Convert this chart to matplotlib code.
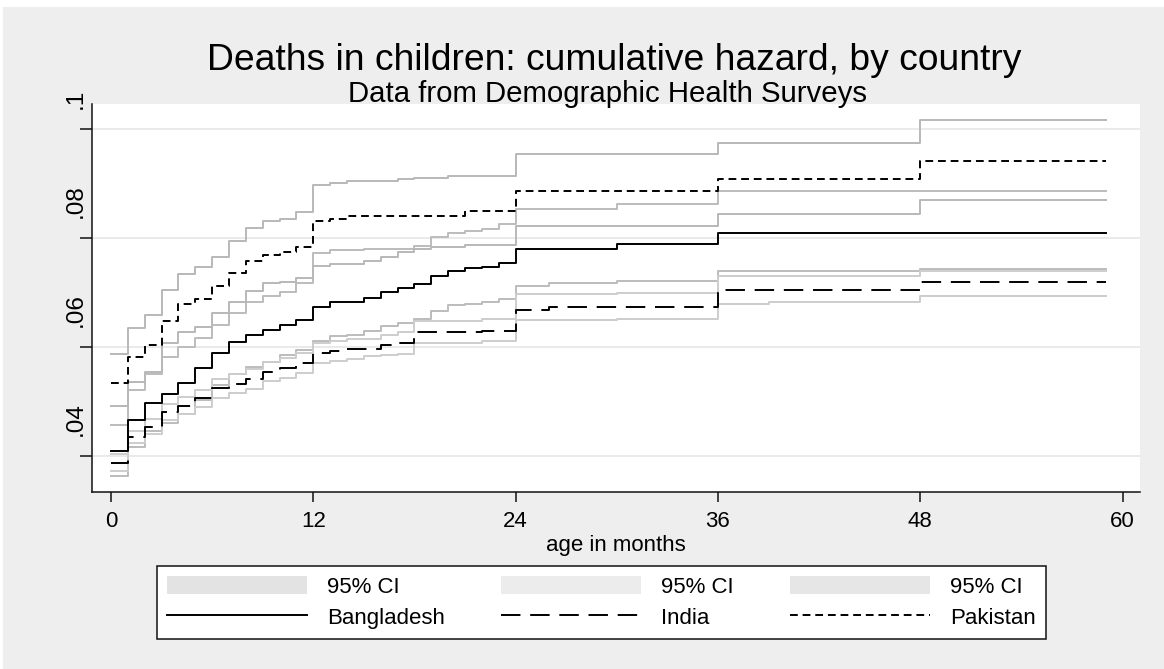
import matplotlib
matplotlib.use('Agg')
import matplotlib.pyplot as plt
import matplotlib.transforms as mtransforms
from matplotlib.patches import Patch, Rectangle

plt.rcParams['font.family'] = ['Liberation Sans', 'DejaVu Sans']

# age in months where the curves step (last value is the end of follow-up)
months = [0, 1, 2, 3, 4, 5, 6, 7, 8, 9, 10, 11, 12, 13, 14, 15, 16, 17, 18,
          19, 20, 21, 22, 23, 24, 26, 30, 36, 39, 48, 59]

bangladesh = [0.0409, 0.0467, 0.0497, 0.0514, 0.0534, 0.0561, 0.0589, 0.0610,
              0.0623, 0.0631, 0.0641, 0.0650, 0.0674, 0.0682, 0.0682, 0.0691,
              0.0701, 0.0708, 0.0716, 0.0731, 0.0740, 0.0745, 0.0748, 0.0755,
              0.0780, 0.0780, 0.0789, 0.0810, 0.0810, 0.0810, 0.0810]
bangladesh_lo = [0.0364, 0.0417, 0.0445, 0.0460, 0.0478, 0.0503, 0.0530, 0.0550,
                 0.0563, 0.0573, 0.0585, 0.0595, 0.0612, 0.0620, 0.0622, 0.0630,
                 0.0639, 0.0644, 0.0652, 0.0667, 0.0677, 0.0679, 0.0682, 0.0688,
                 0.0713, 0.0717, 0.0722, 0.0740, 0.0740, 0.0743, 0.0743]
bangladesh_hi = [0.0457, 0.0521, 0.0550, 0.0582, 0.0600, 0.0616, 0.0641, 0.0662,
                 0.0683, 0.0693, 0.0701, 0.0717, 0.0772, 0.0778, 0.0778, 0.0780,
                 0.0781, 0.0781, 0.0786, 0.0802, 0.0809, 0.0814, 0.0817, 0.0826,
                 0.0854, 0.0854, 0.0863, 0.0887, 0.0887, 0.0887, 0.0887]

india = [0.0388, 0.0434, 0.0454, 0.0481, 0.0492, 0.0506, 0.0524, 0.0532,
         0.0541, 0.0555, 0.0561, 0.0570, 0.0589, 0.0593, 0.0597, 0.0597,
         0.0604, 0.0607, 0.0628, 0.0628, 0.0628, 0.0628, 0.0630, 0.0630,
         0.0669, 0.0673, 0.0673, 0.0704, 0.0704, 0.0719, 0.0719]
india_lo = [0.0373, 0.0423, 0.0440, 0.0466, 0.0477, 0.0490, 0.0507, 0.0515,
            0.0523, 0.0537, 0.0543, 0.0552, 0.0570, 0.0574, 0.0579, 0.0583,
            0.0586, 0.0588, 0.0607, 0.0607, 0.0607, 0.0607, 0.0612, 0.0612,
            0.0650, 0.0650, 0.0651, 0.0680, 0.0683, 0.0694, 0.0694]
india_hi = [0.0403, 0.0446, 0.0468, 0.0496, 0.0508, 0.0522, 0.0541, 0.0550,
            0.0559, 0.0573, 0.0580, 0.0589, 0.0607, 0.0612, 0.0615, 0.0615,
            0.0622, 0.0627, 0.0648, 0.0648, 0.0648, 0.0648, 0.0651, 0.0651,
            0.0697, 0.0697, 0.0699, 0.0731, 0.0731, 0.0740, 0.0740]

pakistan = [0.0534, 0.0581, 0.0604, 0.0648, 0.0679, 0.0688, 0.0712, 0.0737,
            0.0758, 0.0770, 0.0774, 0.0783, 0.0832, 0.0835, 0.0841, 0.0841,
            0.0841, 0.0841, 0.0841, 0.0841, 0.0841, 0.0850, 0.0850, 0.0850,
            0.0887, 0.0887, 0.0887, 0.0908, 0.0908, 0.0941, 0.0941]
pakistan_lo = [0.0491, 0.0536, 0.0555, 0.0607, 0.0628, 0.0637, 0.0662, 0.0683,
               0.0703, 0.0717, 0.0719, 0.0727, 0.0749, 0.0753, 0.0753, 0.0759,
               0.0766, 0.0774, 0.0780, 0.0784, 0.0784, 0.0788, 0.0788, 0.0788,
               0.0823, 0.0823, 0.0823, 0.0844, 0.0844, 0.0871, 0.0871]
pakistan_hi = [0.0587, 0.0635, 0.0659, 0.0704, 0.0734, 0.0747, 0.0765, 0.0795,
               0.0818, 0.0832, 0.0835, 0.0848, 0.0898, 0.0902, 0.0905, 0.0905,
               0.0905, 0.0908, 0.0911, 0.0911, 0.0914, 0.0915, 0.0915, 0.0915,
               0.0954, 0.0954, 0.0954, 0.0975, 0.0975, 0.1017, 0.1017]

xticks = [0, 12, 24, 36, 48, 60]
yticks = [0.04, 0.06, 0.08, 0.1]
ylabels = ['.04', '.06', '.08', '.1']

W, H = 1164, 669
fig = plt.figure(figsize=(W / 100, H / 100), dpi=100)
fig.patches.append(Rectangle((3 / W, 0), 1, (H - 7) / H, transform=fig.transFigure,
                             facecolor='#eeeeee', edgecolor='none', zorder=-10))

ax = fig.add_axes([92 / W, 1 - 491.7 / H, 1048 / W, 387.7 / H])
ax.set_zorder(1)
ax.set_facecolor('white')

# confidence bands (drawn as step lines)
ax.step(months, bangladesh_lo, where='post', color='#bcbcbc', lw=1.4, zorder=2)
ax.step(months, bangladesh_hi, where='post', color='#bcbcbc', lw=1.4, zorder=2)
ax.step(months, india_lo, where='post', color='#cdcdcd', lw=1.4, zorder=2)
ax.step(months, india_hi, where='post', color='#cdcdcd', lw=1.4, zorder=2)
ax.step(months, pakistan_lo, where='post', color='#b8b8b8', lw=1.4, zorder=2)
ax.step(months, pakistan_hi, where='post', color='#b8b8b8', lw=1.4, zorder=2)

# estimates
ax.step(months, bangladesh, where='post', color='black', lw=1.4, zorder=3)
ax.step(months, india, where='post', color='black', lw=1.4, ls=(0, (10, 5)), zorder=3)
ax.step(months, pakistan, where='post', color='black', lw=1.4, ls=(0, (4, 2.5)), zorder=3)

ax.set_xlim(-1.127, 61.03)
ax.set_ylim(0.03344, 0.10465)
ax.set_xticks(xticks)
ax.set_yticks(yticks)
ax.set_yticklabels(ylabels)
ax.yaxis.grid(True, color='#e6e6e6', lw=1.2)
ax.set_axisbelow(True)

for s in ['top', 'right']:
    ax.spines[s].set_visible(False)
for s in ['left', 'bottom']:
    ax.spines[s].set_linewidth(1.1)
    ax.spines[s].set_color('#111111')

ax.tick_params(axis='x', length=7, width=1.1, pad=7, labelsize=16, color='#111111')
ax.tick_params(axis='y', length=9, width=1.1, pad=3, labelsize=17.5, color='#111111')

# rotated y labels, sitting a bit above their ticks like the original
shift = mtransforms.ScaledTranslation(0, 0.2, fig.dpi_scale_trans)
for lbl in ax.get_yticklabels():
    lbl.set_rotation(90)
    lbl.set_rotation_mode('anchor')
    lbl.set_ha('left')
    lbl.set_va('center')
    lbl.set_transform(lbl.get_transform() + shift)

ax.set_xlabel('age in months', fontsize=16)
ax.xaxis.set_label_coords(0.5, (491.7 - 551) / 387.7)
ax.xaxis.label.set_va('baseline')

fig.text(614 / W, 1 - 70 / H, 'Deaths in children: cumulative hazard, by country',
         ha='center', va='baseline', fontsize=26.8)
fig.text(607 / W, 1 - 101.7 / H, 'Data from Demographic Health Surveys',
         ha='center', va='baseline', fontsize=21.2)

handles = [Patch(facecolor='#e3e3e3', edgecolor='none'),
           plt.Line2D([], [], color='black', lw=1.4),
           Patch(facecolor='#ececec', edgecolor='none'),
           plt.Line2D([], [], color='black', lw=1.4, ls=(0, (10, 5))),
           Patch(facecolor='#e6e6e6', edgecolor='none'),
           plt.Line2D([], [], color='black', lw=1.4, ls=(0, (4, 2.5)))]
labels = ['95% CI', 'Bangladesh', '95% CI', 'India', '95% CI', 'Pakistan']
leg = fig.legend(handles, labels, ncol=3, mode='expand', loc='upper left',
                 bbox_to_anchor=(157 / W, 1 - 639 / H, 889 / W, 73 / H),
                 borderaxespad=0, fontsize=16, handlelength=6.3, handleheight=0.9,
                 handletextpad=0.9, labelspacing=0.4, borderpad=0.45,
                 fancybox=False, framealpha=1)
leg.get_frame().set_edgecolor('#111111')
leg.get_frame().set_linewidth(1.1)

fig.savefig('out.png', dpi=100, facecolor='white')
